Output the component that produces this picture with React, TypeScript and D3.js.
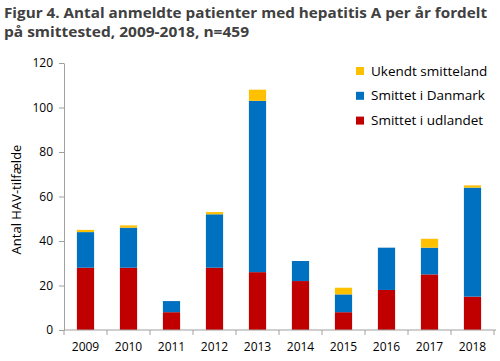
import { useRef, useEffect } from "react";
import * as d3 from "d3";

const years = ["2009", "2010", "2011", "2012", "2013", "2014", "2015", "2016", "2017", "2018"];
const udlandet = [28, 28, 8, 28, 26, 22, 8, 18, 25, 15];
const danmark = [16, 18, 5, 24, 77, 9, 8, 19, 12, 49];
const ukendt = [1, 1, 0, 1, 5, 0, 3, 0, 4, 1];
const seriesKeys = ["udlandet", "danmark", "ukendt"];
const seriesNames = ["Smittet i udlandet", "Smittet i Danmark", "Ukendt smitteland"];
const colors = ["#c00000", "#0070c0", "#ffc000"];
const yTicks = [0, 20, 40, 60, 80, 100, 120];

export default function App() {
  const svgRef = useRef<SVGSVGElement>(null);

  useEffect(() => {
    const svg = d3.select(svgRef.current);
    svg.selectAll("*").remove();

    const font = "'Open Sans', sans-serif";
    const left = 64, right = 494, top = 63, bottom = 330;

    const rows = years.map((y, i) => ({
      year: y,
      udlandet: udlandet[i],
      danmark: danmark[i],
      ukendt: ukendt[i],
    }));
    const stacked = d3.stack<any>().keys(seriesKeys)(rows);

    const x = d3.scaleBand().domain(years).range([left, right]).paddingInner(0.6).paddingOuter(0.3);
    const y = d3.scaleLinear().domain([0, 120]).range([bottom, top]);

    // title
    const title = svg.append("g").attr("font-family", font).attr("font-weight", "bold")
      .attr("font-size", 15).attr("fill", "#404040").style("white-space", "pre");
    title.append("text").attr("x", 4).attr("y", 18)
      .attr("textLength", 483).attr("lengthAdjust", "spacingAndGlyphs")
      .text("Figur 4. Antal anmeldte patienter med hepatitis A per år fordelt");
    title.append("text").attr("x", 4).attr("y", 37)
      .attr("textLength", 245).attr("lengthAdjust", "spacingAndGlyphs")
      .text("på smittested,  2009-2018, n=459");

    // bars
    svg.append("g").selectAll("g").data(stacked).join("g")
      .attr("fill", (_d, i) => colors[i])
      .selectAll("rect").data((d) => d).join("rect")
      .attr("x", (d: any) => x(d.data.year)!)
      .attr("width", x.bandwidth())
      .attr("y", (d) => y(d[1]))
      .attr("height", (d) => y(d[0]) - y(d[1]));

    // y axis
    const gy = svg.append("g").attr("transform", `translate(${left},0)`)
      .call(d3.axisLeft(y).tickValues(yTicks).tickSize(5).tickSizeOuter(0).tickPadding(6));
    gy.select(".domain").attr("stroke", "#a0a0a0");
    gy.selectAll(".tick line").attr("stroke", "#a0a0a0");
    gy.selectAll(".tick text").attr("font-family", font).attr("font-size", 12).attr("fill", "#000");

    // x axis
    const gx = svg.append("g").attr("transform", `translate(0,${bottom})`);
    gx.append("line").attr("x1", left).attr("x2", right + 2).attr("stroke", "#a0a0a0");
    gx.selectAll("line.tk").data(d3.range(years.length + 1)).join("line")
      .attr("class", "tk")
      .attr("x1", (i) => left + i * (right - left) / years.length)
      .attr("x2", (i) => left + i * (right - left) / years.length)
      .attr("y1", 0).attr("y2", 5).attr("stroke", "#a0a0a0");
    gx.selectAll("text").data(years).join("text")
      .attr("x", (d) => x(d)! + x.bandwidth() / 2)
      .attr("y", 21)
      .attr("text-anchor", "middle")
      .attr("font-family", font).attr("font-size", 12).attr("fill", "#000")
      .text((d) => d);

    // y label
    svg.append("text")
      .attr("transform", `translate(21,${(top + bottom) / 2 + 3}) rotate(-90)`)
      .attr("text-anchor", "middle")
      .attr("font-family", font).attr("font-size", 13).attr("fill", "#000")
      .text("Antal HAV-tilfælde");

    // legend
    const legend = svg.append("g").attr("font-family", font).attr("font-size", 13.5);
    const order = [2, 1, 0];
    order.forEach((si, k) => {
      const cy = 71 + k * 24.8;
      legend.append("rect").attr("x", 356).attr("y", cy - 4).attr("width", 8).attr("height", 8)
        .attr("fill", colors[si]);
      legend.append("text").attr("x", 371).attr("y", cy + 4.5).attr("fill", "#000")
        .text(seriesNames[si]);
    });
  }, []);

  return <svg ref={svgRef} width={500} height={361} style={{ position: "absolute", left: 0, top: 0 }} />;
}
